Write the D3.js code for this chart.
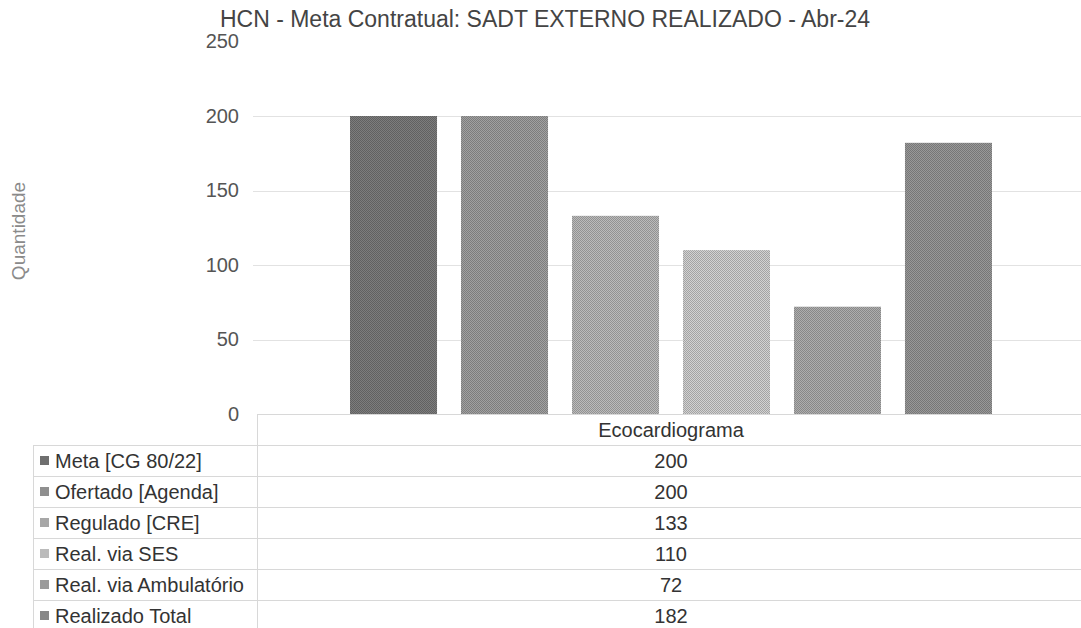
<!DOCTYPE html>
<html>
<head>
<meta charset="utf-8">
<script src="https://cdn.jsdelivr.net/npm/d3@7"></script>
<style>
  body { margin: 0; background: #fff; }
  text { font-family: "Liberation Sans", Arial, sans-serif; }
</style>
</head>
<body>
<div id="chart"></div>
<script>
// data
const categories = ["Ecocardiograma"];
const seriesNames = ["Meta [CG 80/22]", "Ofertado [Agenda]", "Regulado [CRE]", "Real. via SES", "Real. via Ambulatório", "Realizado Total"];
const seriesValues = [200, 200, 133, 110, 72, 182];
const yTicks = [0, 50, 100, 150, 200, 250];
const chartTitle = "HCN - Meta Contratual: SADT EXTERNO REALIZADO - Abr-24";
const yTitle = "Quantidade";

// grey halftone tones, one per series
const tones = ["#6e6e6e", "#8e8e8e", "#a5a5a5", "#b9b9b9", "#9a9a9a", "#878787"];

const width = 1081, height = 628;
const plotLeft = 257, plotRight = 1085;
const rowTop = 445, rowH = 31;

const svg = d3.select("#chart").append("svg")
    .attr("width", width)
    .attr("height", height);

// halftone-ish patterns to mimic the scanned print
const defs = svg.append("defs");
tones.forEach(function (c, i) {
    const base = d3.color(c);
    const p = defs.append("pattern")
        .attr("id", "tone" + i)
        .attr("width", 2).attr("height", 2)
        .attr("patternUnits", "userSpaceOnUse");
    p.append("rect").attr("width", 2).attr("height", 2).attr("fill", base.brighter(0.35));
    p.append("rect").attr("width", 1).attr("height", 1).attr("fill", base.darker(0.35));
    p.append("rect").attr("x", 1).attr("y", 1).attr("width", 1).attr("height", 1).attr("fill", base.darker(0.35));
});

const x0 = d3.scaleBand()
    .domain(categories)
    .range([plotLeft, plotRight]);

const x1 = d3.scaleBand()
    .domain(seriesNames)
    .range([0, x0.bandwidth()])
    .paddingInner(0.216)
    .paddingOuter(0.838);

const y = d3.scaleLinear()
    .domain([0, 250])
    .range([414, 41.5]);

// gridlines
svg.append("g")
    .selectAll("line")
    .data(yTicks.filter(d => d > 0 && d < 250))
    .join("line")
    .attr("x1", plotLeft - 4)
    .attr("x2", width)
    .attr("y1", d => Math.round(y(d)) + 0.5)
    .attr("y2", d => Math.round(y(d)) + 0.5)
    .attr("stroke", "#e2e2e2")
    .attr("stroke-width", 1);

// y axis labels
const yAxis = svg.append("g")
    .attr("transform", "translate(" + (plotLeft - 18) + ",0)")
    .call(d3.axisLeft(y).tickValues(yTicks).tickSize(0).tickPadding(0));
yAxis.select(".domain").remove();
yAxis.selectAll("text")
    .attr("font-size", "20px")
    .attr("fill", "#555")
    .style("font-family", "'Liberation Sans', Arial, sans-serif");

// bars
const rows = seriesNames.map((s, i) => ({ category: categories[0], name: s, value: seriesValues[i], idx: i }));

svg.append("g")
    .selectAll("rect")
    .data(rows)
    .join("rect")
    .attr("x", d => x0(d.category) + x1(d.name))
    .attr("y", d => y(d.value))
    .attr("width", x1.bandwidth())
    .attr("height", d => y(0) - y(d.value))
    .attr("fill", d => "url(#tone" + d.idx + ")");

// data table lines
const grid = svg.append("g").attr("stroke", "#d8d8d8").attr("stroke-width", 1);
grid.append("line")
    .attr("x1", plotLeft).attr("x2", width)
    .attr("y1", y(0) + 0.5).attr("y2", y(0) + 0.5);
d3.range(seriesNames.length + 1).forEach(function (i) {
    grid.append("line")
        .attr("x1", 33).attr("x2", width)
        .attr("y1", rowTop + i * rowH + 0.5).attr("y2", rowTop + i * rowH + 0.5);
});
grid.append("line")
    .attr("x1", plotLeft + 0.5).attr("x2", plotLeft + 0.5)
    .attr("y1", y(0)).attr("y2", height);
grid.append("line")
    .attr("x1", 33.5).attr("x2", 33.5)
    .attr("y1", rowTop).attr("y2", height);

// category header
svg.append("text")
    .attr("x", x0(categories[0]) + x0.bandwidth() / 2)
    .attr("y", (y(0) + rowTop) / 2)
    .attr("dy", "0.35em")
    .attr("text-anchor", "middle")
    .attr("font-size", "20px")
    .attr("fill", "#333")
    .text(categories[0]);

// legend keys + names + values
const tableRows = svg.append("g")
    .selectAll("g")
    .data(rows)
    .join("g")
    .attr("transform", d => "translate(0," + (rowTop + d.idx * rowH + rowH / 2) + ")");

tableRows.append("rect")
    .attr("x", 40)
    .attr("y", -4.5)
    .attr("width", 9)
    .attr("height", 9)
    .attr("fill", d => "url(#tone" + d.idx + ")");

tableRows.append("text")
    .attr("x", 55)
    .attr("dy", "0.35em")
    .attr("font-size", "20px")
    .attr("fill", "#333")
    .text(d => d.name);

tableRows.append("text")
    .attr("x", d => x0(d.category) + x0.bandwidth() / 2)
    .attr("dy", "0.35em")
    .attr("text-anchor", "middle")
    .attr("font-size", "20px")
    .attr("fill", "#333")
    .text(d => d.value);

// titles
svg.append("text")
    .attr("x", 545)
    .attr("y", 27)
    .attr("text-anchor", "middle")
    .attr("font-size", "23px")
    .attr("fill", "#444")
    .text(chartTitle);

svg.append("text")
    .attr("transform", "translate(25,231) rotate(-90)")
    .attr("text-anchor", "middle")
    .attr("font-size", "19px")
    .attr("fill", "#8a8a8a")
    .text(yTitle);
</script>
</body>
</html>
